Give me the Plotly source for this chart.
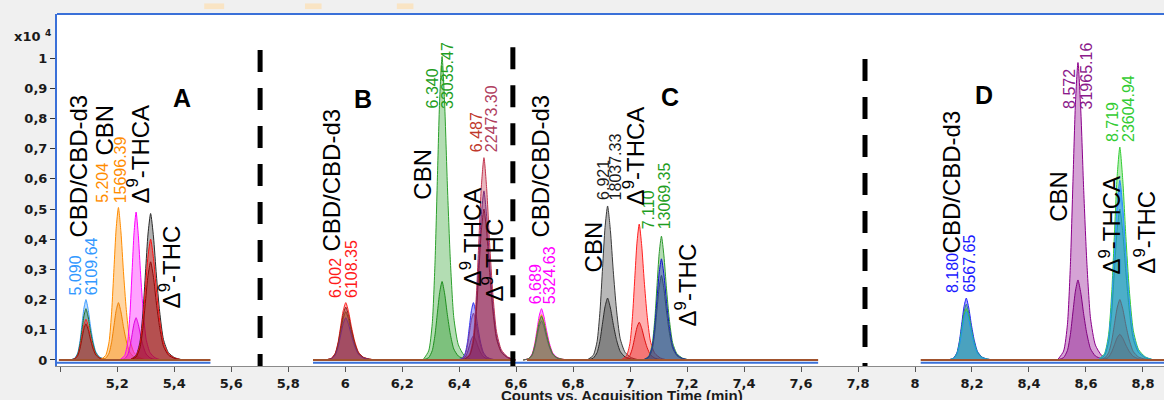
import plotly.graph_objects as go

# ---------------------------------------------------------------------------
# Data
# ---------------------------------------------------------------------------
# Time windows (min) of the four stitched extracted-ion chromatograms
window_start = [4.995, 5.887, 6.638, 8.020]
window_end = [5.527, 6.590, 7.660, 8.874]
# Extent of the blue frame line under the chromatogram windows
frame_start = [4.988, 5.887, 8.020]
frame_end = [5.527, 7.660, 8.874]

# Shared peak profile: offset from apex in FWHM units, fraction of apex height
profile_dt = [-1.60, -1.12, -0.82, -0.59, -0.39, -0.20, 0.0, 0.22, 0.44, 0.69, 0.98, 1.36, 1.85, 2.47]
profile_frac = [0.0, 0.03, 0.12, 0.32, 0.60, 0.86, 1.0, 0.84, 0.58, 0.33, 0.14, 0.05, 0.015, 0.0]

# Panel A: CBD/CBD-d3, CBN, THCA, THC
A_rt = [5.090, 5.204, 5.266, 5.317]
A_fwhm = [0.035, 0.040, 0.036, 0.046]
A_heights = [[0.200, 0.170, 0.135, 0.120], [0.505, 0.190], [0.490, 0.140], [0.485, 0.400, 0.325]]
A_area = [6109.64, 15696.39, None, None]

# Panel B
B_rt = [6.002, 6.340, 6.450, 6.487]
B_fwhm = [0.045, 0.042, 0.035, 0.045]
B_heights = [[0.190, 0.175, 0.160, 0.140], [1.005, 0.260], [0.190, 0.155, 0.080], [0.670, 0.560, 0.500]]
B_area = [6108.35, 33035.47, None, 22473.30]

# Panel C
C_rt = [6.689, 6.921, 7.032, 7.110]
C_fwhm = [0.040, 0.045, 0.040, 0.040]
C_heights = [[0.170, 0.150, 0.145, 0.130], [0.510, 0.205], [0.450, 0.125], [0.410, 0.335, 0.280]]
C_area = [5324.63, 18037.33, None, 13069.35]

# Panel D (THCA and THC co-elute)
D_rt = [8.180, 8.572, 8.719]
D_fwhm = [0.040, 0.045, 0.048]
D_heights = [[0.205, 0.185, 0.170, 0.160], [0.985, 0.265], [0.705, 0.595, 0.570, 0.500, 0.200, 0.085]]
D_area = [6567.65, 31965.16, 23604.94]

compound_text = ["CBD/CBD-d3", "CBN", "Δ<sup>9</sup>-THCA", "Δ<sup>9</sup>-THC"]
panel_letters = ["A", "B", "C", "D"]

y_tickvals = [0, 0.1, 0.2, 0.3, 0.4, 0.5, 0.6, 0.7, 0.8, 0.9, 1.0]
y_ticktext = ["0", "0,1", "0,2", "0,3", "0,4", "0,5", "0,6", "0,7", "0,8", "0,9", "1"]
x_tickvals = [5.0, 5.2, 5.4, 5.6, 5.8, 6.0, 6.2, 6.4, 6.6, 6.8, 7.0, 7.2, 7.4, 7.6, 7.8, 8.0, 8.2, 8.4, 8.6, 8.8]
x_ticktext = ["", "5,2", "5,4", "5,6", "5,8", "6", "6,2", "6,4", "6,6", "6,8", "7", "7,2", "7,4", "7,6", "7,8",
              "8", "8,2", "8,4", "8,6", "8,8"]

# ---------------------------------------------------------------------------
# Styles
# ---------------------------------------------------------------------------
A_colors = [["#3d9bff", "#1b6e2c", "#ff2020", "#8b1a10"], ["#ff8c00", "#f08000"],
            ["#ff00ff", "#e000e0"], ["#2a2a2a", "#ff1010", "#8b0a0a"]]
B_colors = [["#ff2020", "#8b1a1a", "#8b3a1a", "#7a2a7a"], ["#2ca02c", "#1f8f1f"],
            ["#2d2df0", "#7a3a9a", "#6a2a8a"], ["#c2344e", "#7a2a7a", "#8b1a3f"]]
C_colors = [["#ff00ff", "#ff8c00", "#2e8b2e", "#606060"], ["#3a3a3a", "#2a2a2a"],
            ["#ff2020", "#e01010"], ["#2e9a2e", "#1010d0", "#2f4f6f"]]
D_colors = [["#1a1aff", "#2f7f8f", "#32cd32", "#1e90ff"], ["#8b008b", "#800080"],
            ["#32cd32", "#1e7fff", "#3aa0ff", "#20a0a0", "#5a6a7a", "#5a6a7a"]]

A_label_colors = [("#3399ff", "#3399ff"), ("#ff8c00", "#ff8c00"), None, None]
B_label_colors = [("#ff1a1a", "#ff1a1a"), ("#1f9e1f", "#1f9e1f"), None, ("#c0392b", "#b04060")]
C_label_colors = [("#ff00ff", "#ff00ff"), ("#1a1a1a", "#1a1a1a"), None, ("#1f9e1f", "#1f9e1f")]
D_label_colors = [("#1a1aff", "#1a1aff"), ("#8b1a8b", "#8b1a8b"), ("#33cc33", "#33cc33")]

# label anchor positions (time of RT column, time of area column, bottom of text)
A_label_pos = [(5.0534, 5.1095, 0.209), (5.1499, 5.2095, 0.517), None, None]
B_label_pos = [(5.9677, 6.0239, 0.202), (6.3064, 6.3591, 0.828), None, (6.4591, 6.5135, 0.685)]
C_label_pos = [(6.6669, 6.7159, 0.182), (6.9040, 6.9497, 0.526), None, (7.0652, 7.1214, 0.430)]
D_label_pos = [(8.1339, 8.1919, 0.219), (8.5441, 8.6002, 0.828), (8.6915, 8.7494, 0.7185)]

# compound name positions per panel (centre time, bottom of text)
A_name_pos = [(5.0656, 0.404), (5.1569, 0.672), (5.2727, 0.513), (5.3851, 0.166)]
B_name_pos = [(5.9537, 0.354), (6.2731, 0.526), (6.4415, 0.242), (6.5188, 0.189)]
C_name_pos = [(6.6837, 0.404), (6.8698, 0.285), (7.0137, 0.507), (7.1962, 0.106)]
D_name_pos = [(8.1264, 0.348), (8.5032, 0.454), (8.6844, 0.281), (8.8073, 0.281)]
letter_pos = [(5.4274, 0.869), (6.0642, 0.864), (7.1401, 0.871), (8.2420, 0.877)]

divider_t = [5.7013, 6.5885, 7.8245]
divider_top = [1.0265, 1.036, 0.9967]

# faint tab marks along the top edge (paper x from, x to)
tab_marks = [(0.133, 0.151), (0.224, 0.239), (0.307, 0.322)]

FILL_ALPHA = 0.36
LABEL_FONT = "Liberation Sans, Arial, sans-serif"
AXIS_FONT = "DejaVu Sans, Verdana, sans-serif"


def rgba(hex_color, alpha):
    h = hex_color.lstrip("#")
    r, g, b = int(h[0:2], 16), int(h[2:4], 16), int(h[4:6], 16)
    return f"rgba({r},{g},{b},{alpha})"


fig = go.Figure()

panels = [
    (A_rt, A_fwhm, A_heights, A_colors),
    (B_rt, B_fwhm, B_heights, B_colors),
    (C_rt, C_fwhm, C_heights, C_colors),
    (D_rt, D_fwhm, D_heights, D_colors),
]

# filled chromatogram peaks
for rts, fwhms, heights, colors in panels:
    for rt, fw, hs, cs in zip(rts, fwhms, heights, colors):
        for h, c in zip(hs, cs):
            xs = [rt + d * fw for d in profile_dt]
            ys = [h * f for f in profile_frac]
            fig.add_trace(go.Scatter(
                x=xs, y=ys, mode="lines", fill="tozeroy",
                fillcolor=rgba(c, FILL_ALPHA),
                line=dict(color=c, width=1, shape="spline", smoothing=0.6),
                hoverinfo="skip", showlegend=False))

# baselines of each chromatogram window
for s, e in zip(window_start, window_end):
    fig.add_trace(go.Scatter(x=[s, e], y=[0, 0], mode="lines",
                             line=dict(color="#a0522d", width=2),
                             hoverinfo="skip", showlegend=False))

# blue frame under the windows
for s, e in zip(frame_start, frame_end):
    fig.add_trace(go.Scatter(x=[s, e], y=[-0.0095, -0.0095], mode="lines",
                             line=dict(color="#3a70d8", width=2),
                             hoverinfo="skip", showlegend=False))


def vtext(x, y, text, color, size, xshift=0):
    fig.add_annotation(x=x, y=y, xref="x", yref="y", text=text, textangle=-90,
                       showarrow=False, xanchor="center", yanchor="bottom",
                       xshift=xshift, borderpad=0,
                       font=dict(family=LABEL_FONT, size=size, color=color))


# retention time / area labels
panel_labels = [
    (A_rt, A_area, A_label_pos, A_label_colors),
    (B_rt, B_area, B_label_pos, B_label_colors),
    (C_rt, C_area, C_label_pos, C_label_colors),
    (D_rt, D_area, D_label_pos, D_label_colors),
]
for rts, areas, poss, cols in panel_labels:
    for rt, area, pos, col in zip(rts, areas, poss, cols):
        if area is None or pos is None:
            continue
        vtext(pos[0], pos[2], f"{rt:.3f}", col[0], 16)
        vtext(pos[1], pos[2], f"{area:.2f}", col[1], 16)

# compound names
for names_pos in [A_name_pos, B_name_pos, C_name_pos, D_name_pos]:
    for name, (x, y) in zip(compound_text, names_pos):
        vtext(x, y, name, "#000000", 24)

# panel letters
for letter, (x, y) in zip(panel_letters, letter_pos):
    fig.add_annotation(x=x, y=y, xref="x", yref="y", text=f"<b>{letter}</b>",
                       showarrow=False, xanchor="center", yanchor="middle",
                       font=dict(family=LABEL_FONT, size=25, color="#000000"))

# dashed separators between the stitched runs
for t, top in zip(divider_t, divider_top):
    fig.add_shape(type="line", xref="x", yref="y", x0=t, x1=t, y0=top, y1=-0.03,
                  line=dict(color="#000000", width=5, dash="22px,16px"))

# top frame line
fig.add_shape(type="line", xref="paper", yref="paper", x0=0, x1=1, y0=1, y1=1,
              line=dict(color="#3a70d8", width=2))

for x0, x1 in tab_marks:
    fig.add_shape(type="rect", xref="paper", yref="paper", x0=x0, x1=x1, y0=1.014, y1=1.030,
                  line=dict(width=0), fillcolor="#f9e4c4")

# multiplier label
fig.add_annotation(xref="paper", yref="paper", x=-0.0407, y=0.9375, xanchor="left", yanchor="middle",
                   text="<b>x10 <sup>4</sup></b>", showarrow=False,
                   font=dict(family=AXIS_FONT, size=13, color="#1a1a1a"))

# x-axis title
fig.add_annotation(xref="x", yref="paper", x=6.9716, y=-0.085, xanchor="center", yanchor="middle",
                   text="<b>Counts vs. Acquisition Time (min)</b>", showarrow=False,
                   font=dict(family=LABEL_FONT, size=15, color="#1a1a1a"))

fig.update_layout(
    width=1164, height=400,
    margin=dict(l=57, r=0, t=14, b=34),
    paper_bgcolor="#f0f0f0", plot_bgcolor="#ffffff",
    showlegend=False,
    xaxis=dict(range=[4.9884, 8.874], tickvals=x_tickvals, ticktext=x_ticktext,
               showgrid=False, zeroline=False, showline=True, linecolor="#8a8a8a", linewidth=1,
               ticks="outside", ticklen=5, tickcolor="#555555",
               tickfont=dict(family=AXIS_FONT, size=13, color="#1a1a1a", weight="bold")),
    yaxis=dict(range=[-0.0199, 1.1457], tickvals=y_tickvals, ticktext=y_ticktext,
               showgrid=False, zeroline=False, showline=True, linecolor="#3a70d8", linewidth=2,
               ticks="outside", ticklen=5, tickcolor="#333333",
               tickfont=dict(family=AXIS_FONT, size=13, color="#1a1a1a", weight="bold")),
)

fig.write_html("out.html")
